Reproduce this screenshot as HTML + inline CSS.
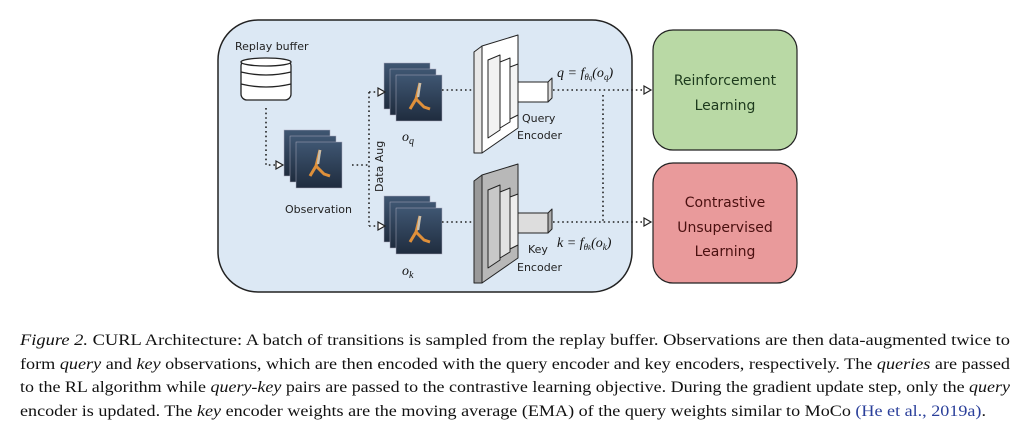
<!DOCTYPE html>
<html><head><meta charset="utf-8"><style>
body{margin:0;background:#fff;width:1029px;height:429px;overflow:hidden}
svg{display:block}
.s{font-family:"DejaVu Sans","Liberation Sans",sans-serif;font-size:12px;fill:#222}
.m{font-family:"Liberation Serif",serif;font-style:italic;font-size:14px;fill:#111}
.c{font-family:"Liberation Serif",serif;font-size:16px;fill:#111}
.d{stroke:#222;stroke-width:1.6;stroke-dasharray:1.6 3;fill:none}
</style></head><body>
<svg width="1029" height="429" viewBox="0 0 1029 429">
<defs>
<linearGradient id="img" x1="0" y1="0" x2="0" y2="1"><stop offset="0" stop-color="#3f5672"/><stop offset="1" stop-color="#1f2c3e"/></linearGradient>
<g id="stk">
<rect x="0" y="0" width="46" height="46" fill="url(#img)" stroke="#aab" stroke-width=".5"/>
<rect x="6" y="6" width="46" height="46" fill="url(#img)" stroke="#aab" stroke-width=".5"/>
<rect x="12" y="12" width="46" height="46" fill="url(#img)" stroke="#aab" stroke-width=".5"/>
<path d="M36 20 L32 36 L26 46 M32 36 L40 44 L46 46" stroke="#e0903a" stroke-width="3" fill="none"/>
<path d="M36 20 L34 34" stroke="#c8c0b0" stroke-width="2.5"/>
</g>
</defs>
<rect x="218" y="20" width="414" height="272" rx="40" fill="#dce8f4" stroke="#222" stroke-width="1.5"/>
<rect x="653" y="30" width="144" height="120" rx="20" fill="#b9d9a5" stroke="#222" stroke-width="1.2"/>
<rect x="653" y="163" width="144" height="120" rx="20" fill="#e99a9b" stroke="#222" stroke-width="1.2"/>
<text x="725" y="85" text-anchor="middle" class="s" style="fill:#1d3a1d;font-size:14px">Reinforcement</text>
<text x="725" y="110" text-anchor="middle" class="s" style="fill:#1d3a1d;font-size:14px">Learning</text>
<text x="725" y="207" text-anchor="middle" class="s" style="fill:#4a1010;font-size:14px">Contrastive</text>
<text x="725" y="232" text-anchor="middle" class="s" style="fill:#4a1010;font-size:14px">Unsupervised</text>
<text x="725" y="256" text-anchor="middle" class="s" style="fill:#4a1010;font-size:14px">Learning</text>
<text x="235" y="50" class="s" style="font-size:11px">Replay buffer</text>
<g fill="#fff" stroke="#222" stroke-width="1.3">
<rect x="241" y="60" width="50" height="40" rx="6"/>
<ellipse cx="266" cy="62" rx="25" ry="4"/>
<path d="M241 72 Q266 78 291 72 M241 84 Q266 90 291 84" fill="none"/>
</g>
<use href="#stk" x="284" y="130"/>
<use href="#stk" x="384" y="63"/>
<use href="#stk" x="384" y="196"/>
<text x="285" y="213" class="s" style="font-size:11px">Observation</text>
<text x="402" y="141" class="m">o<tspan font-size="10" dy="3">q</tspan></text>
<text x="402" y="275" class="m">o<tspan font-size="10" dy="3">k</tspan></text>
<text transform="translate(383,192) rotate(-90)" class="s" style="font-size:11px">Data Aug</text>
<!-- query encoder -->
<g stroke="#222" stroke-width="1" stroke-linejoin="round">
<polygon points="474,52 482,46 482,153 474,153" fill="#e8e8e8"/>
<polygon points="482,46 518,35 518,128 482,153" fill="#fff"/>
<polygon points="488,60 500,55 500,130 488,138" fill="#f2f2f2"/>
<polygon points="500,62 510,58 510,122 500,128" fill="#fff"/>
<polygon points="510,67 518,64 518,115 510,119" fill="#f4f4f4"/>
<rect x="518" y="82" width="30" height="20" fill="#fff"/><polygon points="548,82 552,78 552,98 548,102" fill="#ddd"/>
</g>
<!-- key encoder -->
<g stroke="#222" stroke-width="1" stroke-linejoin="round">
<polygon points="474,181 482,175 482,283 474,283" fill="#999"/>
<polygon points="482,175 518,164 518,258 482,283" fill="#b8b8b8"/>
<polygon points="488,190 500,185 500,260 488,268" fill="#c8c8c8"/>
<polygon points="500,192 510,188 510,252 500,258" fill="#e2e2e2"/>
<polygon points="510,197 518,194 518,245 510,249" fill="#eee"/>
<rect x="518" y="213" width="30" height="20" fill="#ddd"/><polygon points="548,213 552,209 552,229 548,233" fill="#aaa"/>
</g>
<text x="522" y="122" class="s" style="font-size:11px">Query</text>
<text x="517" y="139" class="s" style="font-size:11px">Encoder</text>
<text x="528" y="253" class="s" style="font-size:11px">Key</text>
<text x="517" y="271" class="s" style="font-size:11px">Encoder</text>
<text x="557" y="77" class="m">q = f<tspan font-size="9" dy="3">θ<tspan font-size="7">q</tspan></tspan><tspan dy="-3">(o</tspan><tspan font-size="9" dy="3">q</tspan><tspan dy="-3">)</tspan></text>
<text x="557" y="247" class="m">k = f<tspan font-size="9" dy="3">θ<tspan font-size="7">k</tspan></tspan><tspan dy="-3">(o</tspan><tspan font-size="9" dy="3">k</tspan><tspan dy="-3">)</tspan></text>
<path class="d" d="M266 108 V165 H276 M352 165 H368 M369 92 V226 M369 92 H378 M369 226 H378 M442 90 H474 M442 222 H474 M553 90 H645 M553 222 H645 M603 95 V222"/>
<g fill="#fff" stroke="#222" stroke-width="1.2">
<polygon points="276,161 283,165 276,169"/><polygon points="378,88 385,92 378,96"/><polygon points="378,222 385,226 378,230"/>
<polygon points="644,86 651,90 644,94"/><polygon points="644,218 651,222 644,226"/>
</g>
<text x="20" y="345" class="c" textLength="990" lengthAdjust="spacingAndGlyphs"><tspan font-style="italic">Figure 2.</tspan> CURL Architecture: A batch of transitions is sampled from the replay buffer. Observations are then data-augmented twice to</text>
<text x="20" y="369" class="c" textLength="990" lengthAdjust="spacingAndGlyphs">form <tspan font-style="italic">query</tspan> and <tspan font-style="italic">key</tspan> observations, which are then encoded with the query encoder and key encoders, respectively. The <tspan font-style="italic">queries</tspan> are passed</text>
<text x="20" y="392" class="c" textLength="990" lengthAdjust="spacingAndGlyphs">to the RL algorithm while <tspan font-style="italic">query-key</tspan> pairs are passed to the contrastive learning objective. During the gradient update step, only the <tspan font-style="italic">query</tspan></text>
<text x="20" y="416" class="c" textLength="966" lengthAdjust="spacingAndGlyphs">encoder is updated. The <tspan font-style="italic">key</tspan> encoder weights are the moving average (EMA) of the query weights similar to MoCo <tspan fill="#2a3f9a">(He et al., 2019a)</tspan>.</text>
</svg>
</body></html>
